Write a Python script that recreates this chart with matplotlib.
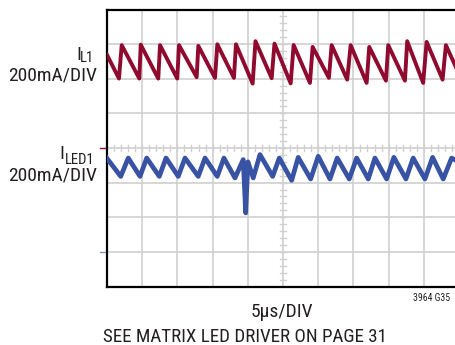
import numpy as np
import matplotlib
matplotlib.use("Agg")
import matplotlib.pyplot as plt
from matplotlib import font_manager as fm

# condensed face like the datasheet lettering, whichever is installed
have = set(f.name for f in fm.fontManager.ttflist)
narrow = [f for f in ['Roboto Condensed', 'Archivo Narrow', 'Liberation Sans Narrow',
                      'Barlow Semi Condensed'] if f in have]
plt.rcParams['font.family'] = narrow[:1] + ['DejaVu Sans']

# I_L1 sawtooth (time in us, current in mA)
il1_valley_t = [1.70, 4.59, 7.28, 9.98, 12.74, 15.34, 18.03, 20.69, 23.39,
                26.09, 28.83, 31.52, 34.12, 36.88, 39.62, 42.32, 44.91, 47.67]
il1_valley_ma = [401, 401, 401, 401, 409, 405, 405, 372, 403,
                 373, 376, 405, 395, 376, 389, 389, 376, 395]
il1_peak_t = [2.09, 4.79, 7.53, 10.23, 12.97, 15.67, 18.32, 21.09, 23.79,
              26.51, 29.21, 31.91, 34.61, 37.25, 39.95, 42.64, 45.40, 48.14]
il1_peak_ma = [594, 597, 594, 594, 590, 599, 599, 617, 603,
               595, 584, 594, 594, 584, 594, 617, 613, 594]
il1_start = (0.0, 538)
il1_end = (49.7, 455)

# I_LED1 ripple with the glitch near 19.7us
led_t = [0, 1.95, 3.02, 4.69, 5.64, 7.43, 8.38, 10.12, 11.08, 12.96, 13.92,
         15.66, 16.61, 18.18, 19.35, 19.70, 20.02, 20.77, 21.73, 23.53, 24.47,
         26.23, 27.16, 28.93, 30.00, 31.67, 32.70, 34.41, 35.46, 37.11, 38.06,
         39.72, 40.75, 42.46, 43.49, 45.16, 46.25, 47.76, 48.95, 49.7]
led_ma = [540, 436, 542, 436, 542, 436, 542, 436, 542, 436, 542,
          436, 542, 427, 533, 225, 520, 427, 562, 436, 542,
          413, 546, 421, 552, 421, 542, 421, 542, 421, 542,
          421, 546, 421, 542, 421, 546, 421, 542, 525]

ma_per_div = 200
il1_ground = 4   # division of the red ground marker
led_ground = 1   # division of the blue ground marker

red = '#8F0A2E'
blue = '#3953A4'
gridc = '#D0D0D0'

# build the sawtooth: valley then peak each cycle
t1 = [il1_start[0]]
i1 = [il1_start[1]]
for vt, vm, pt, pm in zip(il1_valley_t, il1_valley_ma, il1_peak_t, il1_peak_ma):
    t1 += [vt, pt]
    i1 += [vm, pm]
t1.append(il1_end[0])
i1.append(il1_end[1])
t1 = np.array(t1)
i1 = np.array(i1)

fig = plt.figure(figsize=(4.56, 3.45), dpi=100)
W, H = 456.0, 345.0
ax = fig.add_axes([107 / W, 1 - 286.5 / H, 352 / W, 277 / H])
ax.set_xlim(0, 50)
ax.set_ylim(0, 8)

# scope graticule
for x in range(5, 50, 5):
    ax.axvline(x, color=gridc, lw=1.2, zorder=1)
for y in range(1, 8):
    ax.axhline(y, color=gridc, lw=1.2, zorder=1)
# minor ticks on the centre lines
for x in np.arange(1, 50, 1):
    ax.plot([x, x], [4 - 0.075, 4 + 0.075], color=gridc, lw=1.0, zorder=1)
for y in np.arange(0.2, 8, 0.2):
    ax.plot([25 - 0.36, 25 + 0.36], [y, y], color=gridc, lw=1.0, zorder=1)

ax.plot(t1, il1_ground + i1 / ma_per_div, color=red, lw=2.8,
        solid_joinstyle='round', zorder=3)
ax.plot(led_t, led_ground + np.array(led_ma) / ma_per_div, color=blue, lw=3.4,
        solid_joinstyle='round', zorder=3)

# ground markers left of the screen
ax.plot([-0.02, -0.003], [il1_ground, il1_ground], color=red, lw=1.0,
        transform=ax.get_yaxis_transform(), clip_on=False)
ax.plot([-0.02, -0.003], [led_ground, led_ground], color='#7F8FC8', lw=1.0,
        transform=ax.get_yaxis_transform(), clip_on=False)

ax.set_xticks([])
ax.set_yticks([])
for s in ['left', 'top', 'bottom']:
    ax.spines[s].set_linewidth(1.6)
ax.spines['right'].set_visible(False)

tc = '#231F20'
fig.text(76 / W, 1 - 60 / H, 'I', fontsize=14, color=tc, ha='left', va='baseline')
fig.text(80 / W, 1 - 62 / H, 'L1', fontsize=10.5, color=tc, ha='left', va='baseline')
fig.text(97 / W, 1 - 80 / H, '200mA/DIV', fontsize=14, color=tc, ha='right', va='baseline')
fig.text(59 / W, 1 - 159 / H, 'I', fontsize=14, color=tc, ha='left', va='baseline')
fig.text(65 / W, 1 - 164 / H, 'LED1', fontsize=10.5, color=tc, ha='left', va='baseline')
fig.text(97 / W, 1 - 180 / H, '200mA/DIV', fontsize=14, color=tc, ha='right', va='baseline')

fig.text(282 / W, 1 - 317 / H, '5µs/DIV', fontsize=14, color=tc, ha='center', va='baseline')
fig.text(245 / W, 1 - 341.5 / H, 'SEE MATRIX LED DRIVER ON PAGE 31', fontsize=13.7,
         color=tc, ha='center', va='baseline')
fig.text(413 / W, 1 - 301 / H, '3964 G35', fontsize=7, color=tc, ha='left', va='baseline')

fig.savefig('out.png', dpi=100)
